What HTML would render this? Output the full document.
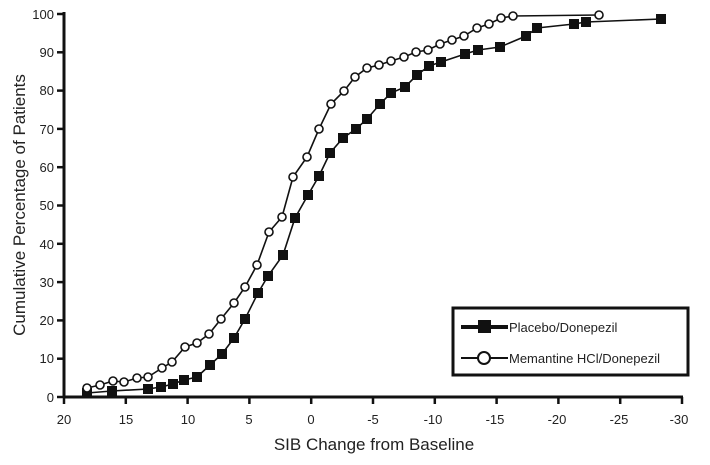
<!DOCTYPE html>
<html><head><style>body{margin:0;background:#fff}svg{display:block}</style></head><body>
<svg width="710" height="465" viewBox="0 0 710 465" font-family="Liberation Sans, Arial, sans-serif">
<g stroke="#111" stroke-width="3" fill="none">
<line x1="64" y1="12" x2="64" y2="398"/>
<line x1="63" y1="397" x2="683" y2="397"/>
</g>
<g stroke="#111" stroke-width="2.5">
<line x1="57" y1="14" x2="64" y2="14"/><line x1="57" y1="52.3" x2="64" y2="52.3"/><line x1="57" y1="90.6" x2="64" y2="90.6"/><line x1="57" y1="128.9" x2="64" y2="128.9"/><line x1="57" y1="167.2" x2="64" y2="167.2"/><line x1="57" y1="205.5" x2="64" y2="205.5"/><line x1="57" y1="243.8" x2="64" y2="243.8"/><line x1="57" y1="282.1" x2="64" y2="282.1"/><line x1="57" y1="320.4" x2="64" y2="320.4"/><line x1="57" y1="358.7" x2="64" y2="358.7"/><line x1="57" y1="397" x2="64" y2="397"/>
<line x1="64" y1="397" x2="64" y2="404"/><line x1="125.8" y1="397" x2="125.8" y2="404"/><line x1="187.6" y1="397" x2="187.6" y2="404"/><line x1="249.4" y1="397" x2="249.4" y2="404"/><line x1="311.2" y1="397" x2="311.2" y2="404"/><line x1="373" y1="397" x2="373" y2="404"/><line x1="434.8" y1="397" x2="434.8" y2="404"/><line x1="496.6" y1="397" x2="496.6" y2="404"/><line x1="558.4" y1="397" x2="558.4" y2="404"/><line x1="620.2" y1="397" x2="620.2" y2="404"/><line x1="682" y1="397" x2="682" y2="404"/>
</g>
<g font-size="13" fill="#222" text-anchor="end">
<text x="54" y="19">100</text><text x="54" y="57">90</text><text x="54" y="95">80</text><text x="54" y="134">70</text><text x="54" y="172">60</text><text x="54" y="210">50</text><text x="54" y="249">40</text><text x="54" y="287">30</text><text x="54" y="325">20</text><text x="54" y="363">10</text><text x="54" y="402">0</text>
</g>
<g font-size="13" fill="#222" text-anchor="middle">
<text x="64" y="424">20</text><text x="126" y="424">15</text><text x="188" y="424">10</text><text x="249" y="424">5</text><text x="311" y="424">0</text><text x="373" y="424">-5</text><text x="433" y="424">-10</text><text x="495" y="424">-15</text><text x="557" y="424">-20</text><text x="619" y="424">-25</text><text x="679" y="424">-30</text>
</g>
<text x="374" y="450" font-size="17" fill="#222" text-anchor="middle">SIB Change from Baseline</text>
<text transform="translate(25,205) rotate(-90)" font-size="17" fill="#222" text-anchor="middle">Cumulative Percentage of Patients</text>
<polyline fill="none" stroke="#111" stroke-width="1.6" points="87,393 112,391 148,389 161,387 173,384 184,380 197,377 210,365 222,354 234,338 245,319 258,293 268,276 283,255 295,218 308,195 319,176 330,153 343,138 356,129 367,119 380,104 391,93 405,87 417,75 429,66 441,62 465,54 478,50 500,47 526,36 537,28 574,24 586,22 661,19"/>
<g fill="#111">
<rect x="82" y="388" width="10" height="10"/><rect x="107" y="386" width="10" height="10"/><rect x="143" y="384" width="10" height="10"/><rect x="156" y="382" width="10" height="10"/><rect x="168" y="379" width="10" height="10"/><rect x="179" y="375" width="10" height="10"/><rect x="192" y="372" width="10" height="10"/><rect x="205" y="360" width="10" height="10"/><rect x="217" y="349" width="10" height="10"/><rect x="229" y="333" width="10" height="10"/><rect x="240" y="314" width="10" height="10"/><rect x="253" y="288" width="10" height="10"/><rect x="263" y="271" width="10" height="10"/><rect x="278" y="250" width="10" height="10"/><rect x="290" y="213" width="10" height="10"/><rect x="303" y="190" width="10" height="10"/><rect x="314" y="171" width="10" height="10"/><rect x="325" y="148" width="10" height="10"/><rect x="338" y="133" width="10" height="10"/><rect x="351" y="124" width="10" height="10"/><rect x="362" y="114" width="10" height="10"/><rect x="375" y="99" width="10" height="10"/><rect x="386" y="88" width="10" height="10"/><rect x="400" y="82" width="10" height="10"/><rect x="412" y="70" width="10" height="10"/><rect x="424" y="61" width="10" height="10"/><rect x="436" y="57" width="10" height="10"/><rect x="460" y="49" width="10" height="10"/><rect x="473" y="45" width="10" height="10"/><rect x="495" y="42" width="10" height="10"/><rect x="521" y="31" width="10" height="10"/><rect x="532" y="23" width="10" height="10"/><rect x="569" y="19" width="10" height="10"/><rect x="581" y="17" width="10" height="10"/><rect x="656" y="14" width="10" height="10"/>
</g>
<polyline fill="none" stroke="#111" stroke-width="1.6" points="87,388 100,385 113,381 124,382 137,378 148,377 162,368 172,362 185,347 197,343 209,334 221,319 234,303 245,287 257,265 269,232 282,217 293,177 307,157 319,129 331,104 344,91 355,77 367,68 379,65 391,61 404,57 416,52 428,50 440,44 452,40 464,36 477,28 489,24 501,18 513,16 599,15"/>
<g fill="#fff" stroke="#111" stroke-width="1.6">
<circle cx="87" cy="388" r="4"/><circle cx="100" cy="385" r="4"/><circle cx="113" cy="381" r="4"/><circle cx="124" cy="382" r="4"/><circle cx="137" cy="378" r="4"/><circle cx="148" cy="377" r="4"/><circle cx="162" cy="368" r="4"/><circle cx="172" cy="362" r="4"/><circle cx="185" cy="347" r="4"/><circle cx="197" cy="343" r="4"/><circle cx="209" cy="334" r="4"/><circle cx="221" cy="319" r="4"/><circle cx="234" cy="303" r="4"/><circle cx="245" cy="287" r="4"/><circle cx="257" cy="265" r="4"/><circle cx="269" cy="232" r="4"/><circle cx="282" cy="217" r="4"/><circle cx="293" cy="177" r="4"/><circle cx="307" cy="157" r="4"/><circle cx="319" cy="129" r="4"/><circle cx="331" cy="104" r="4"/><circle cx="344" cy="91" r="4"/><circle cx="355" cy="77" r="4"/><circle cx="367" cy="68" r="4"/><circle cx="379" cy="65" r="4"/><circle cx="391" cy="61" r="4"/><circle cx="404" cy="57" r="4"/><circle cx="416" cy="52" r="4"/><circle cx="428" cy="50" r="4"/><circle cx="440" cy="44" r="4"/><circle cx="452" cy="40" r="4"/><circle cx="464" cy="36" r="4"/><circle cx="477" cy="28" r="4"/><circle cx="489" cy="24" r="4"/><circle cx="501" cy="18" r="4"/><circle cx="513" cy="16" r="4"/><circle cx="599" cy="15" r="4"/>
</g>
<rect x="453" y="308" width="235" height="67" fill="#fff" stroke="#111" stroke-width="3"/>
<line x1="461" y1="327" x2="508" y2="327" stroke="#111" stroke-width="4"/>
<rect x="478" y="320" width="13" height="13" fill="#111"/>
<text x="509" y="332" font-size="13" fill="#222">Placebo/Donepezil</text>
<line x1="461" y1="358" x2="508" y2="358" stroke="#111" stroke-width="2"/>
<circle cx="484" cy="358" r="6" fill="#fff" stroke="#111" stroke-width="2"/>
<text x="509" y="363" font-size="13" fill="#222">Memantine HCl/Donepezil</text>
</svg>
</body></html>
